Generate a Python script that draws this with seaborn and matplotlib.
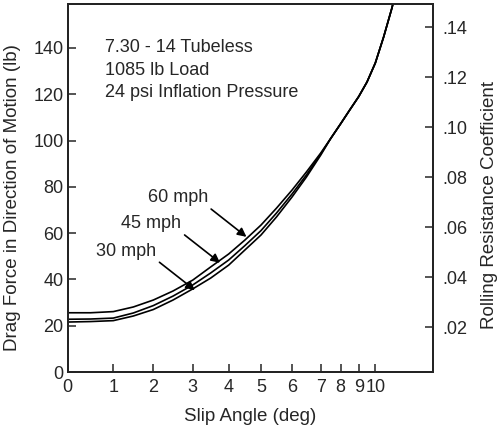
import numpy as np
import pandas as pd
import seaborn as sns
import matplotlib
matplotlib.use("Agg")
import matplotlib.pyplot as plt
import matplotlib.ticker as ticker

# slip angle (deg) where the three speed curves were read
slip_low = [0, 0.5, 1, 1.5, 2, 2.5, 3, 3.5, 4, 4.5, 5, 5.5, 6, 6.5, 7]
drag_30 = [21.6, 21.8, 22.2, 24.2, 27.0, 31.1, 35.9, 40.6, 46.2, 52.7, 59.2, 67.0, 75.6, 84.2, 93.7]
drag_45 = [22.8, 22.9, 23.3, 25.5, 28.7, 32.8, 37.6, 42.8, 48.4, 54.6, 61.1, 68.7, 76.9, 85.1, 94.2]
drag_60 = [25.6, 25.6, 26.1, 28.1, 31.1, 35.0, 39.7, 45.4, 51.0, 57.0, 63.5, 70.8, 78.6, 86.4, 94.6]
# above ~7 deg the curves merge into one
slip_high = [7.5, 8, 8.5, 9, 9.5, 10, 10.5, 11, 11.3]
drag_high = [100.9, 107.3, 113.2, 119.0, 125.3, 133.5, 144.7, 157.2, 166.0]

speeds = ["30 mph", "45 mph", "60 mph"]
x_ticks = [0, 1, 2, 3, 4, 5, 6, 7, 8, 9, 10]
y_ticks = [0, 20, 40, 60, 80, 100, 120, 140]
rr_ticks = [0.02, 0.04, 0.06, 0.08, 0.10, 0.12, 0.14]
info_lines = ["7.30 - 14 Tubeless", "1085 lb Load", "24 psi Inflation Pressure"]

# arrow tips on the curves (slip, drag)
arrow_tips = {"60 mph": (4.55, 58.4), "45 mph": (3.76, 47.2), "30 mph": (3.06, 35.4)}

rows = []
for name, low in zip(speeds, [drag_30, drag_45, drag_60]):
    for s, d in zip(slip_low + slip_high, low + drag_high):
        rows.append({"slip": s, "drag": d, "speed": name})
df = pd.DataFrame(rows)

# the printed slip axis is stretched unevenly; map angle -> drawn position
ang_ref = [0, 1, 2, 3, 4, 5, 6, 7, 8, 9, 10, 13.48]
pos_ref = [67.7, 113.3, 153.3, 192.7, 228.7, 261.0, 292.0, 320.7, 340.7, 358.7, 375.3, 433.0]


def fwd(x):
    return np.interp(x, ang_ref, pos_ref)


def inv(p):
    return np.interp(p, pos_ref, ang_ref)


sns.set_style("ticks")
plt.rcParams['font.family'] = ['Liberation Sans', 'DejaVu Sans']

fig = plt.figure(figsize=(5.0, 4.28), dpi=100)
ax = fig.add_axes([0.1354, 0.1308, 0.7306, 0.8598])
ax.set_xscale('function', functions=(fwd, inv))

sns.lineplot(data=df, x="slip", y="drag", hue="speed", palette=["black"] * 3,
             legend=False, errorbar=None, lw=1.2, ax=ax)

ax.set_xlim(0, 13.48)
ax.set_ylim(0, 159)
ax.set_xticks(x_ticks)
ax.set_yticks(y_ticks)
ax.xaxis.set_minor_locator(ticker.NullLocator())
ax.tick_params(axis='x', direction='in', length=5.5, width=1.1, labelsize=13, pad=5)
ax.tick_params(axis='y', direction='in', length=6, width=1.1, labelsize=13, pad=3)
for sp in ax.spines.values():
    sp.set_linewidth(1.3)
    sp.set_color("black")

ax.set_xlabel("Slip Angle (deg)", fontsize=13.5, labelpad=9)
ax.set_ylabel("Drag Force in Direction of Motion (lb)", fontsize=13.5)
ax.yaxis.set_label_coords(-0.127, 0.473)

ax2 = ax.twinx()
ax2.set_ylim(0.002, 0.1492)
ax2.set_yticks(rr_ticks)
ax2.yaxis.set_major_formatter(ticker.FuncFormatter(lambda v, p: ("%.2f" % v)[1:]))
ax2.tick_params(axis='y', direction='in', length=6, width=1.1, labelsize=13, pad=7)
for sp in ax2.spines.values():
    sp.set_linewidth(1.3)
ax2.set_ylabel("Rolling Resistance Coefficient", fontsize=13.5)
ax2.yaxis.set_label_coords(1.131, 0.454)

for i, line in enumerate(info_lines):
    ax.text(0.102, 0.8696 - i * 0.0618, line, transform=ax.transAxes,
            fontsize=13, va='baseline', ha='left')

for name, tip in arrow_tips.items():
    ax.annotate(name, xy=tip, xytext=(-49.5, 28), textcoords='offset points',
                fontsize=13, ha='center', va='center',
                arrowprops=dict(arrowstyle='-|>', color='black', lw=1.2,
                                mutation_scale=13, relpos=(1.0, 0.0),
                                shrinkA=0, shrinkB=0))

fig.savefig("out.png", dpi=100)
